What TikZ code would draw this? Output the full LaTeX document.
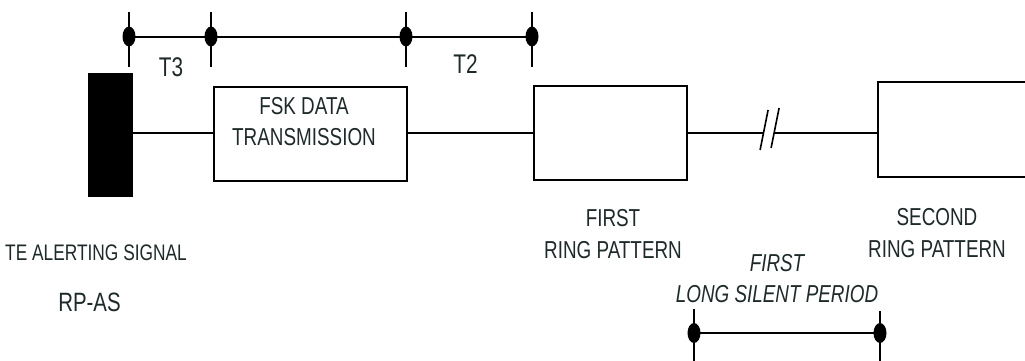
\documentclass[tikz,border=0pt]{standalone}
\usepackage{fontspec}
\setmainfont{Liberation Sans}[FakeStretch=0.77]
\usetikzlibrary{shapes.geometric,calc}
\definecolor{tcol}{RGB}{30,42,42}
\tikzset{
  ln/.style={line width=2},
  boxnode/.style={draw, line width=2.3, rectangle, inner sep=0, outer sep=0},
  sigbar/.style={fill=black, rectangle, inner sep=0, outer sep=0, minimum width=45, minimum height=124},
  tdot/.style={fill=black, ellipse, inner sep=0, outer sep=0, minimum width=13, minimum height=20},
  lbl/.style={text=tcol, inner sep=0, outer sep=0, align=center},
  txa/.style={lbl, font=\fontsize{24.5}{30.5}\selectfont},
  txb/.style={lbl, font=\fontsize{24.5}{32}\selectfont},
  txt/.style={lbl, font=\fontsize{27}{30}\selectfont},
  txs/.style={lbl, font=\fontsize{22.5}{26}\selectfont},
  txr/.style={lbl, font=\fontsize{26.5}{30}\selectfont},
  txi/.style={lbl, font=\fontsize{24.5}{31}\selectfont\itshape},
  slash/.style={line width=1.6}
}
\begin{document}
\begin{tikzpicture}[x=1pt,y=-1pt]
\useasboundingbox (0,0) rectangle (1025,360);
\clip (0,0) rectangle (1025,360);

% main blocks
\node[sigbar] (rpas) at (110.5,135) {};
\node[boxnode, minimum width=193, minimum height=94] (fsk) at (310.5,134) {};
\node[boxnode, minimum width=153, minimum height=94] (ring1) at (610.5,133) {};
\node[boxnode, minimum width=190, minimum height=95] (ring2) at (973,129.5) {};

% break coordinates
\coordinate (brk1) at (763.5,133);
\coordinate (brk2) at (774.5,133);

% main line
\draw[ln] (rpas.east |- 0,133) -- (fsk.west |- 0,133);
\draw[ln] (fsk.east |- 0,133) -- (ring1.west |- 0,133);
\draw[ln] (ring1.east |- 0,133) -- (brk1);
\draw[ln] (brk2) -- (ring2.west |- 0,133);
\draw[slash] ($(brk1)+(-3.4,17)$) -- ($(brk1)+(4.6,-23)$);
\draw[slash] ($(brk2)+(-3.4,15)$) -- ($(brk2)+(4.6,-25)$);

% top timing line
\node[tdot] (d1) at (129,36.5) {};
\node[tdot] (d2) at (211,36.5) {};
\node[tdot] (d3) at (406,36.5) {};
\node[tdot] (d4) at (532,36.5) {};
\draw[ln] (d1.center) -- (d4.center);
\foreach \d in {d1,d2,d3,d4} {
  \draw[ln] (\d.center) ++(0,-24.5) -- ++(0,55);
}

% bottom timing line
\node[tdot] (b1) at (694,333) {};
\node[tdot] (b2) at (880,333) {};
\draw[ln] (b1.center) -- (b2.center);
\draw[ln] (b1.center) ++(0,-24) -- ++(0,55);
\draw[ln] (b2.center) ++(0,-22) -- ++(0,55);

% labels
\node[txt] (t3) at (171,67.5) {T3};
\node[txt] (t2) at (465.5,64) {T2};
\node[txa] (fsktext) at (304,121.5) {FSK DATA\\TRANSMISSION};
\node[txb] (ring1text) at (613,234.5) {FIRST\\RING PATTERN};
\node[txb] (ring2text) at (937,233) {SECOND\\RING PATTERN};
\node[txi] (silent) at (777,279) {FIRST\\LONG SILENT PERIOD};
\node[txs] (tealert) at (96,253) {TE ALERTING SIGNAL};
\node[txr] (rpastext) at (89.5,302.5) {RP-AS};
\end{tikzpicture}
\end{document}
